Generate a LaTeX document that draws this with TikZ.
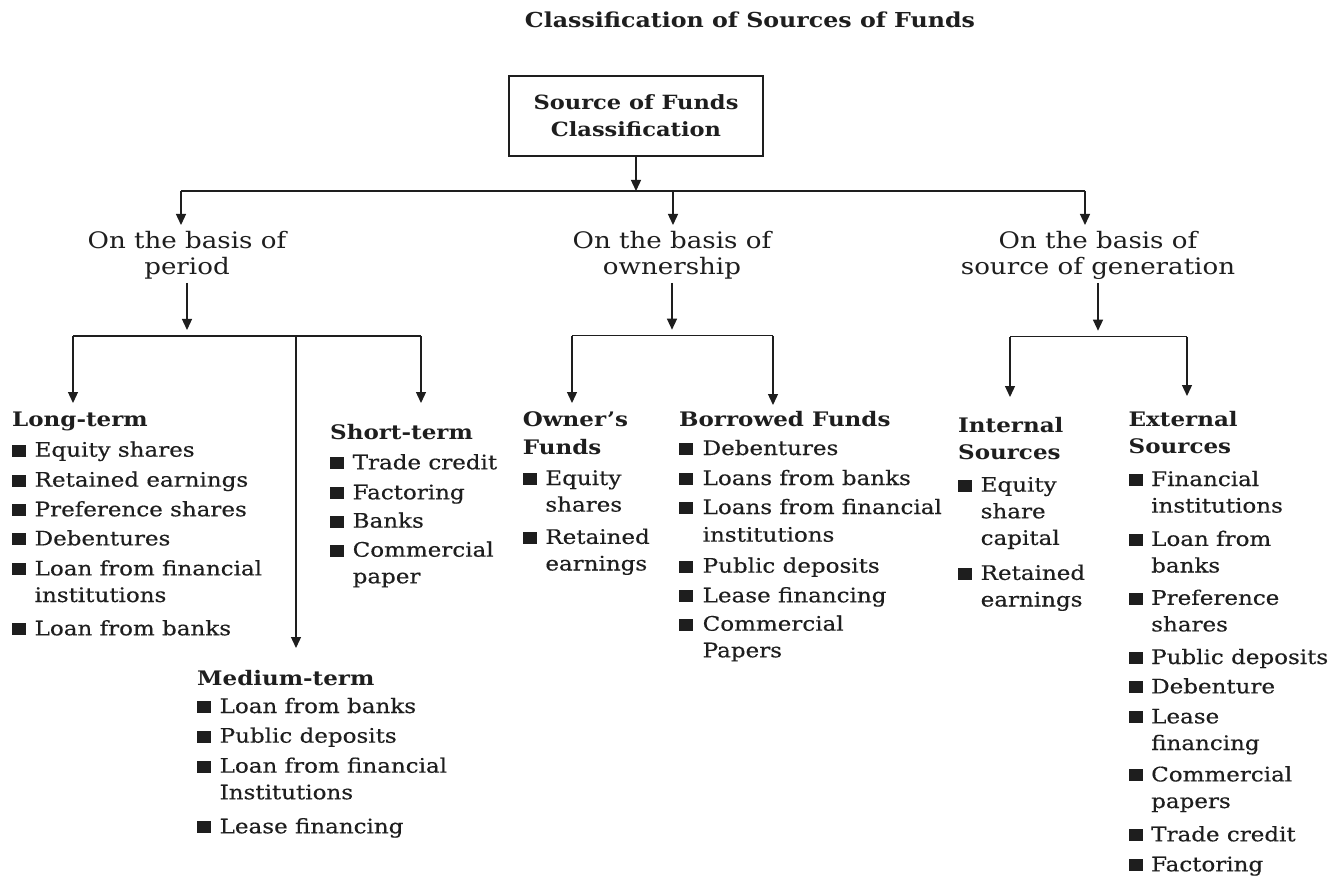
\documentclass[tikz,border=0pt]{standalone}
\usepackage{fontspec}
\usetikzlibrary{arrows.meta}
\newfontfamily\wf{DejaVu Serif}[FakeStretch=1.15,FakeBold=0.4]
\newfontfamily\lf{DejaVu Serif}[FakeStretch=1.15]
\newfontfamily\hdf{DejaVu Serif}[FakeStretch=1.15]
\definecolor{ink}{RGB}{30,30,30}
\newcommand\sqb{\rule{14pt}{12pt}}
\newcommand\hd[1]{\multicolumn{2}{@{}l@{}}{\hdf\bfseries\fontsize{20}{26.6}\selectfont #1}}
\tikzset{
  arr/.style={line width=1.3pt, draw=ink, -{Triangle[width=10pt,length=11pt]}},
  ln/.style={line width=1.3pt, draw=ink},
  lst/.style={anchor=base west, inner sep=0pt, text=ink, font=\wf\fontsize{20}{26.6}\selectfont},
  basis/.style={anchor=base, inner sep=0pt, text=ink, font=\lf\fontsize{22.7}{26}\selectfont},
}
\begin{document}
\begin{tikzpicture}[x=1pt,y=-1pt]
\useasboundingbox[fill=white] (0,0) rectangle (1344,877);

% title and root
\node[anchor=base, inner sep=0pt, text=ink, font=\hdf\bfseries\fontsize{20.6}{24}\selectfont] (title) at (750,28) {Classification of Sources of Funds};
\node[draw=ink, line width=1.3pt, minimum width=254pt, minimum height=80pt, inner sep=0pt, text=ink,
      font=\hdf\bfseries\fontsize{19.6}{27}\selectfont] (root) at (636,116)
  {\raisebox{-2pt}[18.9pt][35.1pt]{\begin{tabular}[t]{@{}c@{}}Source of Funds\\Classification\end{tabular}}};

% basis labels
\node[basis] (pd) at (187,249) {\begin{tabular}[t]{@{}c@{}}On the basis of\\period\end{tabular}};
\node[basis] (ow) at (672,249) {\begin{tabular}[t]{@{}c@{}}On the basis of\\ownership\end{tabular}};
\node[basis] (gn) at (1098,249) {\begin{tabular}[t]{@{}c@{}}On the basis of\\source of generation\end{tabular}};

% lists
\node[lst] (lt) at (12,426.7) {\begin{tabular}[t]{@{}l@{\hspace{8.5pt}}l@{}}
\hd{Long-term}\\[3.4pt]
\sqb & Equity shares\\[3.4pt]
\sqb & Retained earnings\\[3pt]
\sqb & Preference shares\\[2.5pt]
\sqb & Debentures\\[3.4pt]
\sqb & Loan from financial\\
     & institutions\\[6.7pt]
\sqb & Loan from banks
\end{tabular}};

\node[lst] (st) at (330,439.3) {\begin{tabular}[t]{@{}l@{\hspace{8.5pt}}l@{}}
\hd{Short-term}\\[3.4pt]
\sqb & Trade credit\\[3.4pt]
\sqb & Factoring\\[1.8pt]
\sqb & Banks\\[2.4pt]
\sqb & Commercial\\
     & paper
\end{tabular}};

\node[lst] (mt) at (197,685) {\begin{tabular}[t]{@{}l@{\hspace{8.5pt}}l@{}}
\hd{Medium-term}\\[1.4pt]
\sqb & Loan from banks\\[3.1pt]
\sqb & Public deposits\\[3.4pt]
\sqb & Loan from financial\\
     & Institutions\\[7.4pt]
\sqb & Lease financing
\end{tabular}};

\node[lst] (of) at (522.7,426.7) {\begin{tabular}[t]{@{}l@{\hspace{8.5pt}}l@{}}
\hd{Owner’s}\\[0.7pt]
\hd{Funds}\\[4.4pt]
\sqb & Equity\\
     & shares\\[5.7pt]
\sqb & Retained\\
     & earnings
\end{tabular}};

\node[lst] (bf) at (679,426.7) {\begin{tabular}[t]{@{}l@{\hspace{9.5pt}}l@{}}
\hd{Borrowed Funds}\\[1.7pt]
\sqb & Debentures\\[3.4pt]
\sqb & Loans from banks\\[2.4pt]
\sqb & Loans from financial\\[1.1pt]
     & institutions\\[4.4pt]
\sqb & Public deposits\\[3pt]
\sqb & Lease financing\\[1.8pt]
\sqb & Commercial\\
     & Papers
\end{tabular}};

\node[lst] (is) at (958,432.7) {\begin{tabular}[t]{@{}l@{\hspace{8.5pt}}l@{}}
\hd{Internal}\\
\hd{Sources}\\[5.8pt]
\sqb & Equity\\
     & share\\
     & capital\\[8.4pt]
\sqb & Retained\\
     & earnings
\end{tabular}};

\node[lst] (es) at (1128.5,426) {\begin{tabular}[t]{@{}l@{\hspace{8.5pt}}l@{}}
\hd{External}\\[0.7pt]
\hd{Sources}\\[6.1pt]
\sqb & Financial\\
     & institutions\\[6.7pt]
\sqb & Loan from\\
     & banks\\[5.7pt]
\sqb & Preference\\
     & shares\\[6pt]
\sqb & Public deposits\\[2.8pt]
\sqb & Debenture\\[3.4pt]
\sqb & Lease\\
     & financing\\[4.8pt]
\sqb & Commercial\\
     & papers\\[6.7pt]
\sqb & Trade credit\\[3.4pt]
\sqb & Factoring
\end{tabular}};

% connector coordinates
\coordinate (h1L) at (181,191);
\coordinate (h1R) at (1085,191);
\coordinate (pdIn) at (181,225);
\coordinate (owIn) at (673,225);
\coordinate (gnIn) at (1085,225);

\coordinate (pL) at (73,336);
\coordinate (pR) at (421,336);
\coordinate (ltIn) at (73,403);
\coordinate (stIn) at (421,403);
\coordinate (mtIn) at (296,648);

\coordinate (oL) at (572,335.7);
\coordinate (oR) at (773,335.7);
\coordinate (ofIn) at (572,403);
\coordinate (bfIn) at (773,405);

\coordinate (gL) at (1010,336.7);
\coordinate (gR) at (1187,336.7);
\coordinate (isIn) at (1010,397);
\coordinate (esIn) at (1187,396);

% top level
\draw[arr] (root.south) -- (root.south |- h1L);
\draw[ln] (h1L) -- (h1R);
\draw[arr] (h1L) -- (pdIn);
\draw[arr] (owIn |- h1L) -- (owIn);
\draw[arr] (h1R) -- (gnIn);

% period
\draw[arr, shorten >=6pt] (pd.south) -- (pd.south |- pL);
\draw[ln] (pL) -- (pR);
\draw[arr] (pL) -- (ltIn);
\draw[arr] (pR) -- (stIn);
\draw[arr] (mtIn |- pL) -- (mtIn);

% ownership
\draw[arr, shorten >=6pt] (ow.south) -- (ow.south |- oL);
\draw[ln] (oL) -- (oR);
\draw[arr] (oL) -- (ofIn);
\draw[arr] (oR) -- (bfIn);

% generation
\draw[arr, shorten >=6pt] (gn.south) -- (gn.south |- gL);
\draw[ln] (gL) -- (gR);
\draw[arr] (gL) -- (isIn);
\draw[arr] (gR) -- (esIn);
\end{tikzpicture}
\end{document}
